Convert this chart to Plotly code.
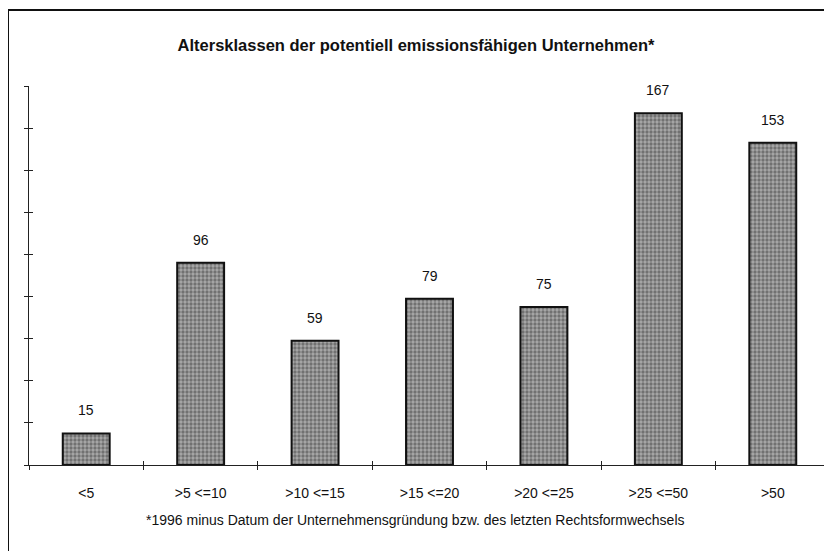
import plotly.graph_objects as go

categories = ["<5", ">5 <=10", ">10 <=15", ">15 <=20", ">20 <=25", ">25 <=50", ">50"]
values = [15, 96, 59, 79, 75, 167, 153]
title_text = "Altersklassen der potentiell emissionsfähigen Unternehmen*"
footnote_text = "*1996 minus Datum der Unternehmensgründung bzw. des letzten Rechtsformwechsels"

# page body has an 8px default margin, so the figure is offset by (8, 8)
OFF = 8
W, H = 832 - OFF, 551 - OFF
ml = 29 - OFF
mr = W - (830 - OFF)
mt = 86 - OFF
mb = H - (465.5 - OFF)
FONT = "Liberation Sans, Arial, sans-serif"

fig = go.Figure()
fig.add_trace(go.Bar(
    x=categories, y=values, width=0.41,
    marker=dict(
        color="#8a8a8a",
        line=dict(color="#111111", width=2),
        pattern=dict(shape=".", fgcolor="#3a3a3a", bgcolor="#a9a9a9", size=4, solidity=0.55),
    ),
    hoverinfo="skip", showlegend=False,
))
# invisible trace to anchor the overlay axes (inside tick halves)
fig.add_trace(go.Scatter(
    x=categories, y=values, xaxis="x2", yaxis="y2", mode="markers",
    marker=dict(opacity=0), hoverinfo="skip", showlegend=False,
))

for c, v in zip(categories, values):
    fig.add_annotation(x=c, y=v, text=str(v), showarrow=False, yanchor="bottom",
                       yshift=13, font=dict(family=FONT, size=14, color="#111"))

ph = H - mt - mb
pw = W - ml - mr
fig.add_annotation(xref="paper", yref="paper", x=(415 - 29) / pw, y=(465.5 - 521) / ph,
                   text=footnote_text, showarrow=False, xanchor="center", yanchor="middle",
                   font=dict(family=FONT, size=14, color="#111"))

bx = (0 - ml) / pw
by = (H - mb - 2) / ph
fig.add_shape(type="line", xref="paper", yref="paper",
              x0=bx, x1=bx, y0=by, y1=-0.4, line=dict(color="#111", width=2))
fig.add_shape(type="line", xref="paper", yref="paper",
              x0=bx, x1=1.01, y0=by, y1=by, line=dict(color="#111", width=2))

fig.update_layout(
    width=W, height=H,
    margin=dict(l=ml, r=mr, t=mt, b=mb, autoexpand=False),
    paper_bgcolor="white", plot_bgcolor="white",
    title=dict(text="<b>" + title_text + "</b>", x=(416 - OFF) / W, xanchor="center",
               y=1 - (45 - OFF) / H, yanchor="middle",
               font=dict(family=FONT, size=16.5, color="#111")),
    xaxis=dict(type="category", categoryorder="array", categoryarray=categories,
               range=[-0.5, 6.5], showline=True, linecolor="#222", linewidth=1,
               ticks="outside", ticklen=4, tickcolor="#222", tickson="boundaries",
               showgrid=False, zeroline=False, ticklabelstandoff=15,
               tickfont=dict(family=FONT, size=14, color="#111")),
    yaxis=dict(range=[0, 180], dtick=20, showline=True, linecolor="#222", linewidth=1,
               ticks="outside", ticklen=4, tickcolor="#222", showticklabels=False,
               showgrid=False, zeroline=False),
    xaxis2=dict(type="category", categoryorder="array", categoryarray=categories,
                overlaying="x", range=[-0.5, 6.5], ticks="inside", ticklen=4,
                tickcolor="#222", tickson="boundaries", showticklabels=False,
                showline=False, showgrid=False, zeroline=False, side="bottom"),
    yaxis2=dict(overlaying="y", range=[0, 180], dtick=20, ticks="inside", ticklen=4,
                tickcolor="#222", showticklabels=False, showline=False,
                showgrid=False, zeroline=False, side="left"),
)

fig.write_html("out.html")
